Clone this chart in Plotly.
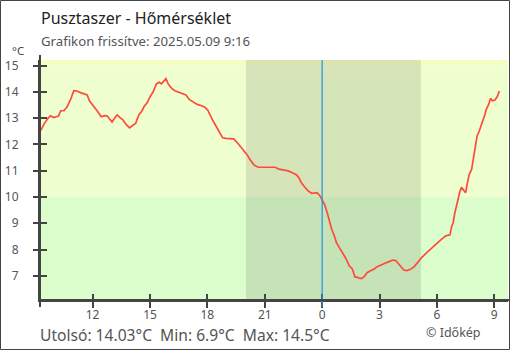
import plotly.graph_objects as go

# Temperature readings, Pusztaszer, 2025-05-08 09:17 .. 2025-05-09 09:16
times = [
    "2025-05-08 09:17", "2025-05-08 09:29", "2025-05-08 09:40", "2025-05-08 09:48", "2025-05-08 09:58",
    "2025-05-08 10:13", "2025-05-08 10:20", "2025-05-08 10:30", "2025-05-08 10:40", "2025-05-08 10:51",
    "2025-05-08 11:01", "2025-05-08 11:11", "2025-05-08 11:22", "2025-05-08 11:35", "2025-05-08 11:43",
    "2025-05-08 11:50", "2025-05-08 12:01", "2025-05-08 12:14", "2025-05-08 12:27", "2025-05-08 12:38",
    "2025-05-08 12:46", "2025-05-08 12:53", "2025-05-08 13:01", "2025-05-08 13:11", "2025-05-08 13:17",
    "2025-05-08 13:25", "2025-05-08 13:35", "2025-05-08 13:45", "2025-05-08 13:56", "2025-05-08 14:04",
    "2025-05-08 14:15", "2025-05-08 14:25", "2025-05-08 14:35", "2025-05-08 14:41", "2025-05-08 14:51",
    "2025-05-08 15:00", "2025-05-08 15:10", "2025-05-08 15:20", "2025-05-08 15:29", "2025-05-08 15:36",
    "2025-05-08 15:43", "2025-05-08 15:50", "2025-05-08 15:57", "2025-05-08 16:08", "2025-05-08 16:18",
    "2025-05-08 16:28", "2025-05-08 16:39", "2025-05-08 16:53", "2025-05-08 17:03", "2025-05-08 17:16",
    "2025-05-08 17:28", "2025-05-08 17:42", "2025-05-08 17:52", "2025-05-08 18:01", "2025-05-08 18:08",
    "2025-05-08 18:16", "2025-05-08 18:27", "2025-05-08 18:37", "2025-05-08 18:48", "2025-05-08 18:58",
    "2025-05-08 19:11", "2025-05-08 19:23", "2025-05-08 19:34", "2025-05-08 19:44", "2025-05-08 19:55",
    "2025-05-08 20:05", "2025-05-08 20:13", "2025-05-08 20:26", "2025-05-08 20:39", "2025-05-08 20:50",
    "2025-05-08 21:00", "2025-05-08 21:16", "2025-05-08 21:32", "2025-05-08 21:45", "2025-05-08 21:58",
    "2025-05-08 22:13", "2025-05-08 22:27", "2025-05-08 22:40", "2025-05-08 22:48", "2025-05-08 22:55",
    "2025-05-08 23:06", "2025-05-08 23:16", "2025-05-08 23:27", "2025-05-08 23:37", "2025-05-08 23:44",
    "2025-05-08 23:53", "2025-05-09 00:01", "2025-05-09 00:08", "2025-05-09 00:16", "2025-05-09 00:22",
    "2025-05-09 00:29", "2025-05-09 00:37", "2025-05-09 00:45", "2025-05-09 00:53", "2025-05-09 01:04",
    "2025-05-09 01:14", "2025-05-09 01:25", "2025-05-09 01:35", "2025-05-09 01:43", "2025-05-09 01:50",
    "2025-05-09 01:58", "2025-05-09 02:05", "2025-05-09 02:14", "2025-05-09 02:21", "2025-05-09 02:32",
    "2025-05-09 02:42", "2025-05-09 02:53", "2025-05-09 03:03", "2025-05-09 03:17", "2025-05-09 03:30",
    "2025-05-09 03:41", "2025-05-09 03:51", "2025-05-09 03:58", "2025-05-09 04:07", "2025-05-09 04:16",
    "2025-05-09 04:26", "2025-05-09 04:37", "2025-05-09 04:49", "2025-05-09 05:01", "2025-05-09 05:12",
    "2025-05-09 05:28", "2025-05-09 05:43", "2025-05-09 05:59", "2025-05-09 06:14", "2025-05-09 06:28",
    "2025-05-09 06:41", "2025-05-09 06:46", "2025-05-09 06:51", "2025-05-09 06:56", "2025-05-09 07:02",
    "2025-05-09 07:07", "2025-05-09 07:12", "2025-05-09 07:17", "2025-05-09 07:22", "2025-05-09 07:30",
    "2025-05-09 07:35", "2025-05-09 07:41", "2025-05-09 07:49", "2025-05-09 07:53", "2025-05-09 07:59",
    "2025-05-09 08:06", "2025-05-09 08:12", "2025-05-09 08:18", "2025-05-09 08:25", "2025-05-09 08:30",
    "2025-05-09 08:35", "2025-05-09 08:43", "2025-05-09 08:48", "2025-05-09 08:54", "2025-05-09 09:02",
    "2025-05-09 09:09", "2025-05-09 09:16",
]
temps = [
    12.52, 12.80, 12.99, 13.09, 13.02,
    13.08, 13.28, 13.28, 13.43, 13.71,
    14.04, 14.03, 13.97, 13.92, 13.88,
    13.66, 13.50, 13.28, 13.05, 13.09,
    13.08, 12.95, 12.85, 13.03, 13.12,
    13.03, 12.93, 12.76, 12.63, 12.71,
    12.80, 13.12, 13.28, 13.43, 13.58,
    13.81, 14.00, 14.30, 14.36, 14.30,
    14.42, 14.50, 14.30, 14.13, 14.04,
    14.00, 13.94, 13.88, 13.71, 13.60,
    13.52, 13.47, 13.41, 13.31, 13.12,
    12.93, 12.70, 12.48, 12.25, 12.23,
    12.21, 12.21, 12.06, 11.91, 11.76,
    11.60, 11.43, 11.22, 11.13, 11.13,
    11.15, 11.15, 11.13, 11.06, 11.03,
    10.99, 10.92, 10.84, 10.71, 10.54,
    10.37, 10.23, 10.14, 10.16, 10.16,
    10.05, 9.89, 9.70, 9.40, 9.10,
    8.81, 8.56, 8.26, 8.09, 7.88,
    7.67, 7.38, 7.25, 6.95, 6.95,
    6.90, 6.90, 7.00, 7.12, 7.19,
    7.25, 7.35, 7.41, 7.48, 7.54,
    7.60, 7.58, 7.48, 7.31, 7.22,
    7.20, 7.25, 7.35, 7.54, 7.69,
    7.88, 8.05, 8.24, 8.39, 8.52,
    8.56, 8.87, 9.02, 9.38, 9.70,
    9.95, 10.20, 10.37, 10.27, 10.16,
    10.49, 10.84, 11.05, 11.34, 11.72,
    12.32, 12.48, 12.67, 12.95, 13.12,
    13.33, 13.54, 13.75, 13.66, 13.69,
    13.81, 14.03,
]

hour_ticks = ["2025-05-08 12:00", "2025-05-08 15:00", "2025-05-08 18:00", "2025-05-08 21:00",
              "2025-05-09 00:00", "2025-05-09 03:00", "2025-05-09 06:00", "2025-05-09 09:00"]
hour_labels = ["12", "15", "18", "21", "0", "3", "6", "9"]
temp_ticks = [7, 8, 9, 10, 11, 12, 13, 14, 15]

sunset = "2025-05-08 20:01"
sunrise = "2025-05-09 05:10"
midnight = "2025-05-09 00:00"

x_range = ["2025-05-08 09:15", "2025-05-09 09:43"]
y_range = [6.08, 15.21]

last_val = temps[-1]
min_val = min(temps)
max_val = max(temps)

FONT = "Noto Sans"
AX = "#444444"
TXT = "#555555"

# plot area in pixels
W, H = 510, 350
ML, MR, MT, MB = 40, 2, 60, 50
PW, PH = W - ML - MR, H - MT - MB


def px(x):
    return (x - ML) / PW


def py(y):
    return (H - MB - y) / PH


fig = go.Figure()

fig.add_trace(go.Scatter(
    x=times, y=temps, mode="lines",
    line=dict(color="#ff4a3d", width=1.7),
    hoverinfo="x+y", showlegend=False,
))
# helper trace so the mirrored tick axes get drawn
fig.add_trace(go.Scatter(
    x=times[:1], y=temps[:1], xaxis="x2", yaxis="y2", mode="markers",
    marker=dict(opacity=0), hoverinfo="skip", showlegend=False,
))

shapes = [
    # temperature bands
    dict(type="rect", xref="paper", yref="y", x0=0, x1=1, y0=15, y1=y_range[1],
         fillcolor="#f5fdc1", line_width=0, layer="below"),
    dict(type="rect", xref="paper", yref="y", x0=0, x1=1, y0=10, y1=15,
         fillcolor="#effecf", line_width=0, layer="below"),
    dict(type="rect", xref="paper", yref="y", x0=0, x1=1, y0=y_range[0], y1=10,
         fillcolor="#dcfdcc", line_width=0, layer="below"),
    # night
    dict(type="rect", xref="x", yref="paper", x0=sunset, x1=sunrise, y0=0, y1=1,
         fillcolor="rgba(0,0,0,0.1)", line_width=0, layer="below"),
    # midnight marker
    dict(type="line", xref="x", yref="paper", x0=midnight, x1=midnight, y0=py(307), y1=1,
         line=dict(color="#1f93e6", width=1.2)),
    # axis line overhangs
    dict(type="line", xref="paper", yref="paper", x0=0, x1=0, y0=py(307), y1=py(55),
         line=dict(color=AX, width=2)),
    dict(type="line", xref="paper", yref="paper", x0=0, x1=px(509), y0=0, y1=0,
         line=dict(color=AX, width=2)),
    # outer frame
    dict(type="rect", xref="paper", yref="paper",
         x0=px(0.5), x1=px(W - 0.5), y0=py(H - 0.5), y1=py(0.5),
         line=dict(color="#444444", width=1), fillcolor="rgba(0,0,0,0)"),
]

annotations = [
    dict(text="Pusztaszer - Hőmérséklet", xref="paper", yref="paper", x=px(39), y=py(18),
         xanchor="left", yanchor="middle", showarrow=False,
         font=dict(family=FONT, size=16, color="#222222")),
    dict(text="Grafikon frissítve: 2025.05.09 9:16", xref="paper", yref="paper", x=px(39), y=py(41),
         xanchor="left", yanchor="middle", showarrow=False,
         font=dict(family=FONT, size=13.2, color=TXT)),
    dict(text="°C", xref="paper", yref="paper", x=px(10), y=py(51),
         xanchor="left", yanchor="middle", showarrow=False,
         font=dict(family=FONT, size=11.5, color="#444444")),
    dict(text=f"Utolsó: {last_val:.2f}°C  Min: {min_val:.1f}°C  Max: {max_val:.1f}°C",
         xref="paper", yref="paper", x=px(39), y=py(334.5),
         xanchor="left", yanchor="middle", showarrow=False, borderpad=0,
         font=dict(family=FONT, size=15.6, color=TXT)),
    dict(text="© Időkép", xref="paper", yref="paper", x=px(482.5), y=py(332.5),
         xanchor="right", yanchor="middle", showarrow=False,
         font=dict(family=FONT, size=12.5, color=TXT)),
]

fig.update_layout(
    width=W, height=H,
    margin=dict(l=ML, r=MR, t=MT, b=MB, pad=0),
    paper_bgcolor="white", plot_bgcolor="white",
    font=dict(family=FONT, color=TXT),
    shapes=shapes, annotations=annotations,
    # labelled axes carry the inner half of each tick
    xaxis=dict(
        type="date", range=x_range, tickvals=hour_ticks, ticktext=hour_labels,
        ticks="inside", ticklen=6, tickwidth=1.5, tickcolor=AX,
        showline=True, linecolor=AX, linewidth=2, showgrid=False, zeroline=False,
        tickfont=dict(family=FONT, size=12, color=TXT), ticklabelstandoff=3,
    ),
    yaxis=dict(
        range=y_range, tickvals=temp_ticks,
        ticks="inside", ticklen=7, tickwidth=1.5, tickcolor=AX,
        showline=True, linecolor=AX, linewidth=2, showgrid=False, zeroline=False,
        tickfont=dict(family=FONT, size=12, color=TXT), ticklabelstandoff=17,
    ),
    # overlay axes carry the outer half
    xaxis2=dict(
        type="date", range=x_range, tickvals=hour_ticks, overlaying="x",
        ticks="outside", ticklen=7, tickwidth=1.5, tickcolor=AX,
        showticklabels=False, showline=False, showgrid=False, zeroline=False,
    ),
    yaxis2=dict(
        range=y_range, tickvals=temp_ticks, overlaying="y",
        ticks="outside", ticklen=6, tickwidth=1.5, tickcolor=AX,
        showticklabels=False, showline=False, showgrid=False, zeroline=False,
    ),
)

fig.write_html("out.html")
